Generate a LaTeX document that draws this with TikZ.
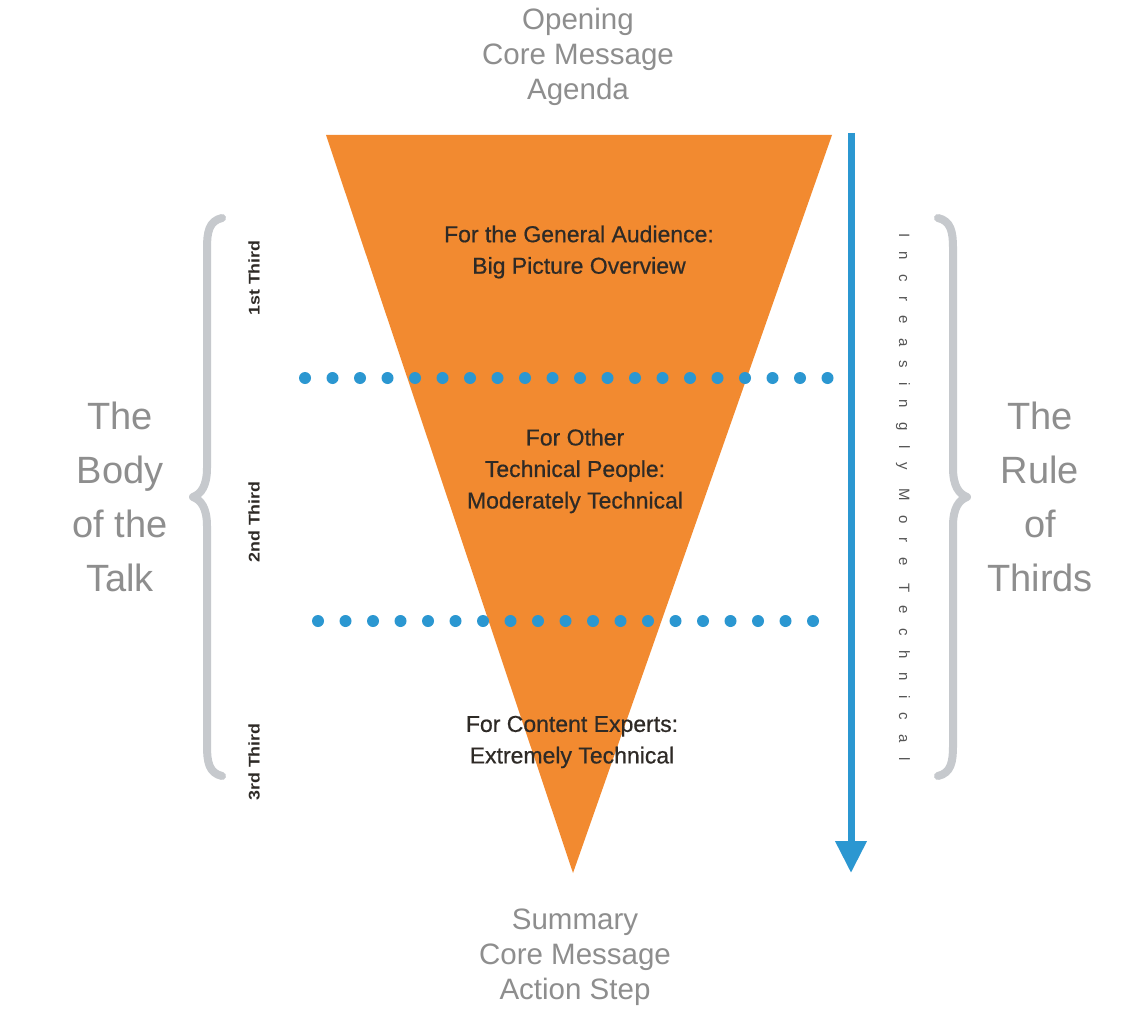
\documentclass[tikz,border=0pt]{standalone}
\usepackage{fontspec}
\setmainfont{Liberation Sans}
\usetikzlibrary{arrows.meta}
\definecolor{funnelorange}{HTML}{F28A30}
\definecolor{techblue}{HTML}{2B97D1}
\definecolor{bracegray}{HTML}{C6C9CD}
\definecolor{labelgray}{HTML}{8E8E8E}
\definecolor{inktext}{HTML}{2E2A26}
\definecolor{spacedgray}{HTML}{555555}

\begin{document}
\begin{tikzpicture}[x=1pt,y=-1pt,
  sidelabel/.style={text=labelgray, font=\fontsize{38}{54}\selectfont, align=center},
  endlabel/.style={text=labelgray, font=\fontsize{29.5}{35}\selectfont, align=center},
  tierlabel/.style={text=inktext, font=\addfontfeature{FakeBold=0.6}\fontsize{23}{31.5}\selectfont, align=center},
  thirdlabel/.style={text=inktext, font=\bfseries\fontsize{15.5}{18}\selectfont, rotate=90},
  dotrow/.style={techblue, line width=12pt, line cap=round, dash pattern=on 0pt off 27.5pt},
  bracepath/.style={bracegray, line width=8pt, line cap=round, line join=round},
  trendarrow/.style={techblue, line width=7pt, -{Triangle[width=30pt,length=32pt]}}]

% page
\fill[white] (0,0) rectangle (1140,1014);
\useasboundingbox (0,0) rectangle (1140,1014);

% the inverted funnel
\coordinate (ftl) at (326,135);
\coordinate (ftr) at (832,135);
\coordinate (fapex) at (573,873);
\fill[funnelorange] (ftl) -- (ftr) -- (fapex) -- cycle;

% dotted dividers between the thirds
\coordinate (d1a) at (305,378);
\coordinate (d1b) at (830,378);
\coordinate (d2a) at (318,621);
\coordinate (d2b) at (840,621);
\draw[dotrow] (d1a) -- (d1b);
\draw[dotrow] (d2a) -- (d2b);

% technical-depth arrow
\coordinate (arrtop) at (851,133);
\coordinate (arrbot) at (851,873);
\draw[trendarrow] (arrtop) -- (arrbot);

% left brace
\draw[bracepath] (222,218) .. controls (209,221) and (207,232) .. (207,248)
  -- (207,468) .. controls (207,486) and (201,494) .. (193,497)
  .. controls (201,500) and (207,508) .. (207,526)
  -- (207,746) .. controls (207,762) and (209,773) .. (222,776);

% right brace
\draw[bracepath] (938,218) .. controls (951,221) and (953,232) .. (953,248)
  -- (953,468) .. controls (953,486) and (959,494) .. (967,497)
  .. controls (959,500) and (953,508) .. (953,526)
  -- (953,746) .. controls (953,762) and (951,773) .. (938,776);

% texts
\node[endlabel] (opening) at (578,57) {Opening\\Core Message\\Agenda};
\node[endlabel] (closing) at (575,957) {Summary\\Core Message\\Action Step};

\node[tierlabel] (tier1) at (579,252) {For the General Audience:\\Big Picture Overview};
\node[tierlabel] (tier2) at (575,471) {For Other\\Technical People:\\Moderately Technical};
\node[tierlabel] (tier3) at (572,742) {For Content Experts:\\Extremely Technical};

\node[thirdlabel] (third1) at (254,278) {\scalebox{1.15}[1]{1st Third}};
\node[thirdlabel] (third2) at (254,522) {\scalebox{1.15}[1]{2nd Third}};
\node[thirdlabel] (third3) at (254,762) {\scalebox{1.15}[1]{3rd Third}};

\node[sidelabel] (body) at (120,497) {The\\Body\\of the\\Talk};
\node[sidelabel] (rule) at (1040,497) {The\\Rule\\of\\Thirds};

\node[text=spacedgray, rotate=-90,
  font=\addfontfeature{LetterSpace=95}\fontsize{15}{17}\selectfont]
  (increasing) at (903,497) {Increasingly More Technical};

\end{tikzpicture}
\end{document}
